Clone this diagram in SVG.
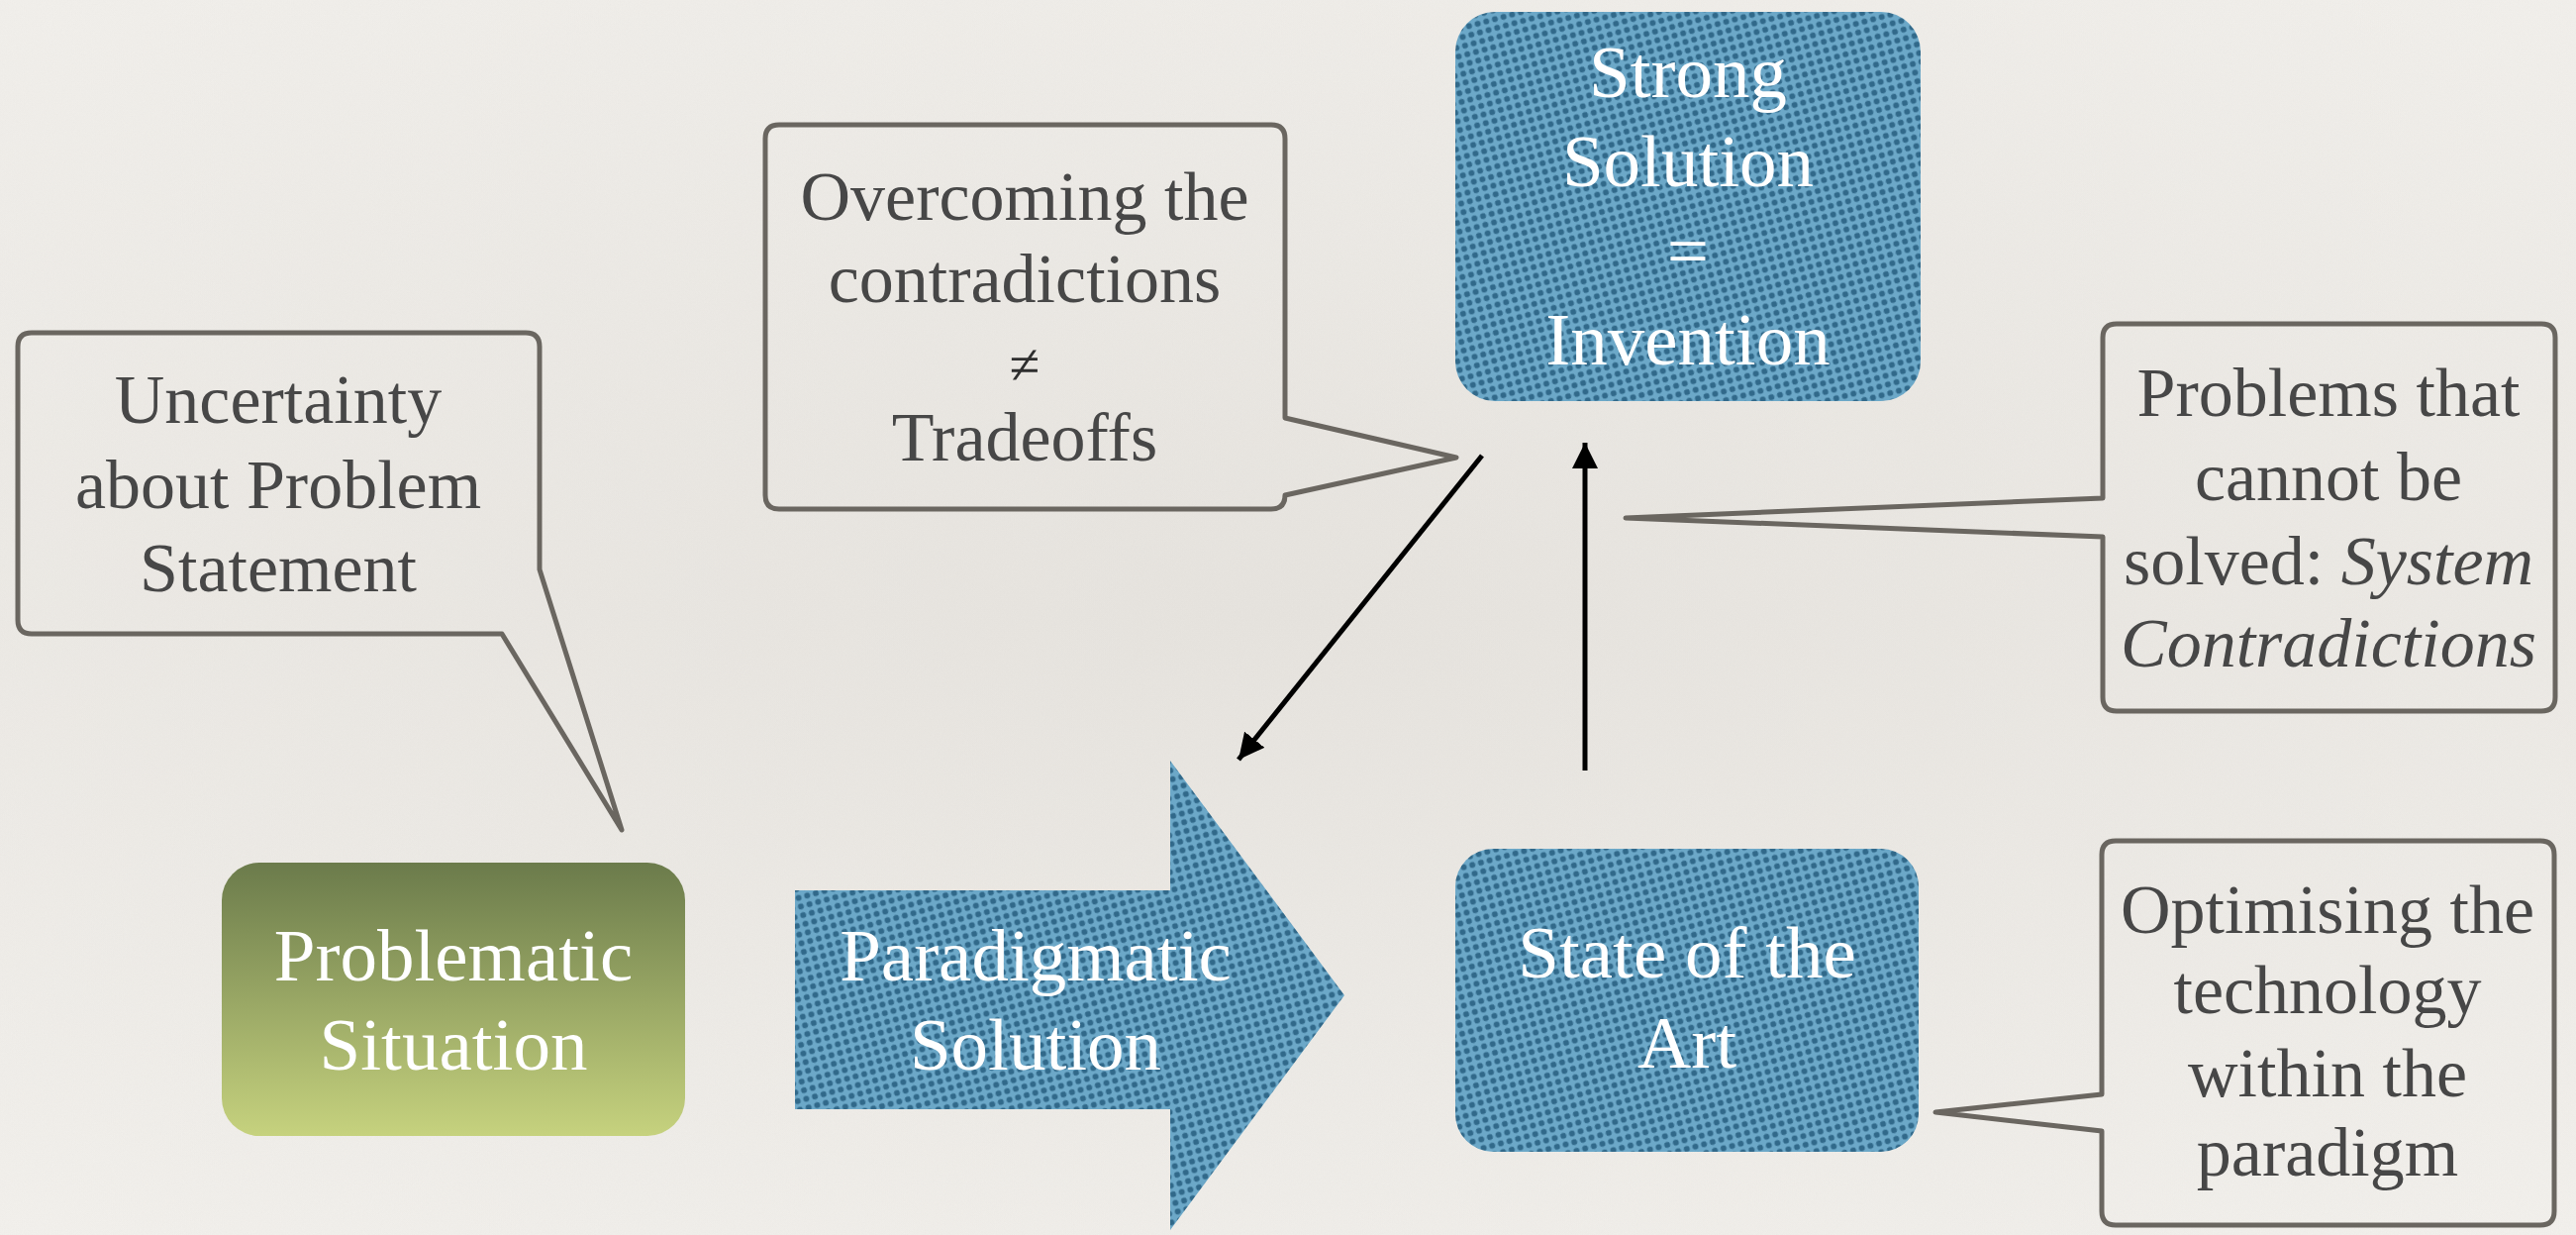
<svg xmlns="http://www.w3.org/2000/svg" width="2602" height="1247" viewBox="0 0 2602 1247">
  <defs>
    <linearGradient id="paper" x1="0" y1="0" x2="0" y2="1">
      <stop offset="0" stop-color="#efede9"/>
      <stop offset="0.5" stop-color="#e8e5e0"/>
      <stop offset="1" stop-color="#f1efeb"/>
    </linearGradient>
    <radialGradient id="paperGlow" cx="0.5" cy="0.5" r="0.7">
      <stop offset="0" stop-color="#e6e3de" stop-opacity="0.6"/>
      <stop offset="1" stop-color="#f4f2ee" stop-opacity="0.6"/>
    </radialGradient>
    <filter id="grain" x="0" y="0" width="100%" height="100%">
      <feTurbulence type="fractalNoise" baseFrequency="0.9" numOctaves="2" seed="4"/>
      <feColorMatrix type="matrix" values="0 0 0 0 0.45  0 0 0 0 0.43  0 0 0 0 0.40  0 0 0 0.9 0"/>
    </filter>
    <pattern id="halftone" patternUnits="userSpaceOnUse" width="9" height="9" patternTransform="rotate(-15)">
      <rect width="9" height="9" fill="#6ca8c8"/>
      <circle cx="4.5" cy="4.5" r="3" fill="#31698a"/>
    </pattern>
    <linearGradient id="olive" x1="0" y1="0" x2="0" y2="1">
      <stop offset="0" stop-color="#6b7b4b"/>
      <stop offset="1" stop-color="#c6d27e"/>
    </linearGradient>
    <marker id="head" viewBox="0 0 26 26" refX="26" refY="13" markerWidth="26" markerHeight="26" markerUnits="userSpaceOnUse" orient="auto">
      <path d="M0,0 L26,13 L0,26 Z" fill="#000"/>
    </marker>
    <style>
      .node-text { font-family: "Liberation Serif", "Times New Roman", serif; font-size: 75px; fill: #ffffff; text-anchor: middle; }
      .note-text { font-family: "Liberation Serif", "Times New Roman", serif; font-size: 70px; fill: #474747; text-anchor: middle; }
      .callout { fill: none; stroke: #6a6660; stroke-width: 5; stroke-linejoin: round; }
      .blue { fill: url(#halftone); }
      .link { stroke: #000; stroke-width: 5; fill: none; marker-end: url(#head); }
    </style>
  </defs>

  <!-- paper background -->
  <rect width="2602" height="1247" fill="url(#paper)"/>
  <rect width="2602" height="1247" fill="url(#paperGlow)"/>
  <rect width="2602" height="1247" filter="url(#grain)" opacity="0.07"/>

  <!-- main flow nodes -->
  <g id="problematic-situation">
    <rect x="224" y="871" width="468" height="276" rx="38" fill="url(#olive)"/>
    <text class="node-text" x="458" y="990">Problematic</text>
    <text class="node-text" x="458" y="1080">Situation</text>
  </g>

  <g id="paradigmatic-solution">
    <polygon class="blue" points="803,899 1182,899 1182,768 1358,1005 1182,1242 1182,1120 803,1120"/>
    <text class="node-text" x="1046" y="990">Paradigmatic</text>
    <text class="node-text" x="1046" y="1080">Solution</text>
  </g>

  <g id="state-of-the-art">
    <rect class="blue" x="1470" y="857" width="468" height="306" rx="38"/>
    <text class="node-text" x="1704" y="987">State of the</text>
    <text class="node-text" x="1704" y="1078">Art</text>
  </g>

  <g id="strong-solution">
    <rect class="blue" x="1470" y="12" width="470" height="393" rx="40"/>
    <text class="node-text" x="1705" y="98">Strong</text>
    <text class="node-text" x="1705" y="188">Solution</text>
    <text class="node-text" x="1705" y="278">=</text>
    <text class="node-text" x="1705" y="368">Invention</text>
  </g>

  <!-- speech-bubble notes -->
  <g id="note-uncertainty">
    <path class="callout" d="M32,336 H531 Q545,336 545,350 V575 L628,838 L507,640 H32 Q18,640 18,626 V350 Q18,336 32,336 Z"/>
    <text class="note-text" x="281" y="427">Uncertainty</text>
    <text class="note-text" x="281" y="513">about Problem</text>
    <text class="note-text" x="281" y="597">Statement</text>
  </g>

  <g id="note-overcoming">
    <path class="callout" d="M787,126 H1284 Q1298,126 1298,140 V422 L1471,462 L1298,500 Q1298,514 1284,514 H787 Q773,514 773,500 V140 Q773,126 787,126 Z"/>
    <text class="note-text" x="1035" y="222">Overcoming the</text>
    <text class="note-text" x="1035" y="305">contradictions</text>
    <text x="1035" y="387" text-anchor="middle" font-family="Liberation Serif, serif" font-size="56" fill="#2e2e2e">≠</text>
    <text class="note-text" x="1035" y="465">Tradeoffs</text>
  </g>

  <g id="note-problems">
    <path class="callout" d="M2138,327 H2567 Q2581,327 2581,341 V704 Q2581,718 2567,718 H2138 Q2124,718 2124,704 V542 L1642,523 L2124,503 V341 Q2124,327 2138,327 Z"/>
    <text class="note-text" x="2352" y="420">Problems that</text>
    <text class="note-text" x="2352" y="505">cannot be</text>
    <text class="note-text" x="2352" y="590">solved: <tspan font-style="italic">System</tspan></text>
    <text class="note-text" x="2352" y="673" font-style="italic">Contradictions</text>
  </g>

  <g id="note-optimising">
    <path class="callout" d="M2137,849 H2566 Q2580,849 2580,863 V1223 Q2580,1237 2566,1237 H2137 Q2123,1237 2123,1223 V1142 L1955,1123 L2123,1105 V863 Q2123,849 2137,849 Z"/>
    <text class="note-text" x="2351" y="942">Optimising the</text>
    <text class="note-text" x="2351" y="1023">technology</text>
    <text class="note-text" x="2351" y="1107">within the</text>
    <text class="note-text" x="2351" y="1187">paradigm</text>
  </g>

  <!-- connectors -->
  <g id="connectors">
    <line class="link" x1="1601" y1="778" x2="1601" y2="447"/>
    <line class="link" x1="1497" y1="460" x2="1251" y2="767"/>
  </g>
</svg>
